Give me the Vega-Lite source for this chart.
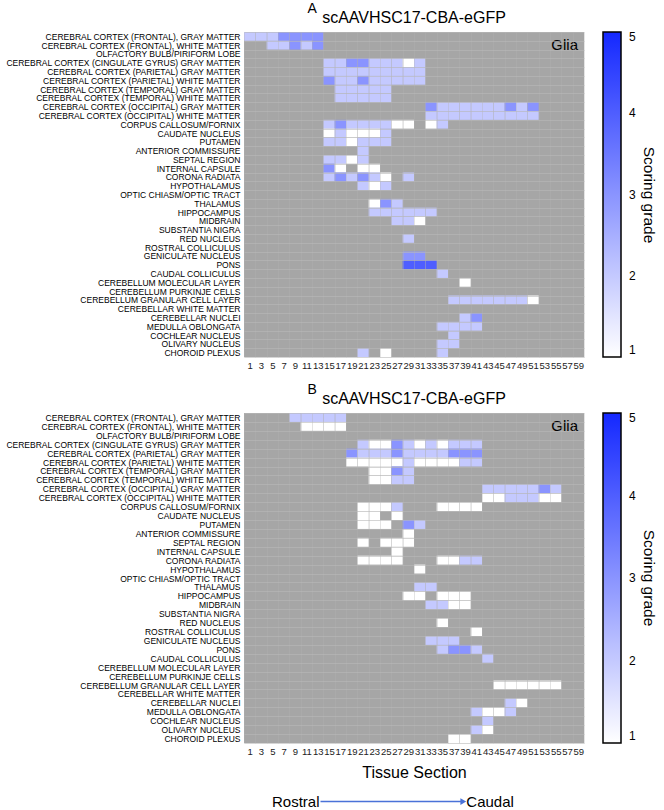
{
  "$schema": "https://vega.github.io/schema/vega-lite/v6.json",
  "background": "white",
  "padding": {"left": 5, "top": 2, "right": 2, "bottom": 1},
  "config": {
    "font": "Liberation Sans",
    "view": {"stroke": null},
    "title": {"fontWeight": "normal", "color": "black", "font": "Liberation Sans"},
    "axis": {"labelFont": "Liberation Sans", "titleFont": "Liberation Sans", "labelColor": "#222222", "titleColor": "black"},
    "legend": {"labelFont": "Liberation Sans", "titleFont": "Liberation Sans"}
  },
  "datasets": {
    "a": [
      {"r": "CEREBRAL CORTEX (FRONTAL), GRAY MATTER", "s": 1, "v": 2},
      {"r": "CEREBRAL CORTEX (FRONTAL), GRAY MATTER", "s": 3, "v": 2},
      {"r": "CEREBRAL CORTEX (FRONTAL), GRAY MATTER", "s": 5, "v": 2},
      {"r": "CEREBRAL CORTEX (FRONTAL), GRAY MATTER", "s": 7, "v": 3},
      {"r": "CEREBRAL CORTEX (FRONTAL), GRAY MATTER", "s": 9, "v": 3},
      {"r": "CEREBRAL CORTEX (FRONTAL), GRAY MATTER", "s": 11, "v": 3},
      {"r": "CEREBRAL CORTEX (FRONTAL), GRAY MATTER", "s": 13, "v": 3},
      {"r": "CEREBRAL CORTEX (FRONTAL), WHITE MATTER", "s": 5, "v": 2},
      {"r": "CEREBRAL CORTEX (FRONTAL), WHITE MATTER", "s": 7, "v": 2},
      {"r": "CEREBRAL CORTEX (FRONTAL), WHITE MATTER", "s": 9, "v": 3},
      {"r": "CEREBRAL CORTEX (FRONTAL), WHITE MATTER", "s": 11, "v": 2},
      {"r": "CEREBRAL CORTEX (FRONTAL), WHITE MATTER", "s": 13, "v": 3},
      {"r": "CEREBRAL CORTEX (CINGULATE GYRUS) GRAY MATTER", "s": 15, "v": 2},
      {"r": "CEREBRAL CORTEX (CINGULATE GYRUS) GRAY MATTER", "s": 17, "v": 2},
      {"r": "CEREBRAL CORTEX (CINGULATE GYRUS) GRAY MATTER", "s": 19, "v": 3},
      {"r": "CEREBRAL CORTEX (CINGULATE GYRUS) GRAY MATTER", "s": 21, "v": 3},
      {"r": "CEREBRAL CORTEX (CINGULATE GYRUS) GRAY MATTER", "s": 23, "v": 2},
      {"r": "CEREBRAL CORTEX (CINGULATE GYRUS) GRAY MATTER", "s": 25, "v": 2},
      {"r": "CEREBRAL CORTEX (CINGULATE GYRUS) GRAY MATTER", "s": 27, "v": 2},
      {"r": "CEREBRAL CORTEX (CINGULATE GYRUS) GRAY MATTER", "s": 29, "v": 1},
      {"r": "CEREBRAL CORTEX (CINGULATE GYRUS) GRAY MATTER", "s": 31, "v": 2},
      {"r": "CEREBRAL CORTEX (PARIETAL) GRAY MATTER", "s": 15, "v": 2},
      {"r": "CEREBRAL CORTEX (PARIETAL) GRAY MATTER", "s": 17, "v": 2},
      {"r": "CEREBRAL CORTEX (PARIETAL) GRAY MATTER", "s": 19, "v": 2},
      {"r": "CEREBRAL CORTEX (PARIETAL) GRAY MATTER", "s": 21, "v": 2},
      {"r": "CEREBRAL CORTEX (PARIETAL) GRAY MATTER", "s": 23, "v": 2},
      {"r": "CEREBRAL CORTEX (PARIETAL) GRAY MATTER", "s": 25, "v": 2},
      {"r": "CEREBRAL CORTEX (PARIETAL) GRAY MATTER", "s": 27, "v": 2},
      {"r": "CEREBRAL CORTEX (PARIETAL) GRAY MATTER", "s": 29, "v": 2},
      {"r": "CEREBRAL CORTEX (PARIETAL) GRAY MATTER", "s": 31, "v": 2},
      {"r": "CEREBRAL CORTEX (PARIETAL) WHITE MATTER", "s": 15, "v": 3},
      {"r": "CEREBRAL CORTEX (PARIETAL) WHITE MATTER", "s": 17, "v": 2},
      {"r": "CEREBRAL CORTEX (PARIETAL) WHITE MATTER", "s": 19, "v": 2},
      {"r": "CEREBRAL CORTEX (PARIETAL) WHITE MATTER", "s": 21, "v": 3},
      {"r": "CEREBRAL CORTEX (PARIETAL) WHITE MATTER", "s": 23, "v": 2},
      {"r": "CEREBRAL CORTEX (PARIETAL) WHITE MATTER", "s": 25, "v": 2},
      {"r": "CEREBRAL CORTEX (PARIETAL) WHITE MATTER", "s": 27, "v": 2},
      {"r": "CEREBRAL CORTEX (PARIETAL) WHITE MATTER", "s": 29, "v": 2},
      {"r": "CEREBRAL CORTEX (PARIETAL) WHITE MATTER", "s": 31, "v": 2},
      {"r": "CEREBRAL CORTEX (TEMPORAL) GRAY MATTER", "s": 17, "v": 2},
      {"r": "CEREBRAL CORTEX (TEMPORAL) GRAY MATTER", "s": 19, "v": 2},
      {"r": "CEREBRAL CORTEX (TEMPORAL) GRAY MATTER", "s": 21, "v": 2},
      {"r": "CEREBRAL CORTEX (TEMPORAL) GRAY MATTER", "s": 23, "v": 2},
      {"r": "CEREBRAL CORTEX (TEMPORAL) GRAY MATTER", "s": 25, "v": 2},
      {"r": "CEREBRAL CORTEX (TEMPORAL) WHITE MATTER", "s": 17, "v": 2},
      {"r": "CEREBRAL CORTEX (TEMPORAL) WHITE MATTER", "s": 19, "v": 2},
      {"r": "CEREBRAL CORTEX (TEMPORAL) WHITE MATTER", "s": 21, "v": 2},
      {"r": "CEREBRAL CORTEX (TEMPORAL) WHITE MATTER", "s": 23, "v": 2},
      {"r": "CEREBRAL CORTEX (TEMPORAL) WHITE MATTER", "s": 25, "v": 2},
      {"r": "CEREBRAL CORTEX (OCCIPITAL) GRAY MATTER", "s": 33, "v": 3},
      {"r": "CEREBRAL CORTEX (OCCIPITAL) GRAY MATTER", "s": 35, "v": 2},
      {"r": "CEREBRAL CORTEX (OCCIPITAL) GRAY MATTER", "s": 37, "v": 2},
      {"r": "CEREBRAL CORTEX (OCCIPITAL) GRAY MATTER", "s": 39, "v": 2},
      {"r": "CEREBRAL CORTEX (OCCIPITAL) GRAY MATTER", "s": 41, "v": 2},
      {"r": "CEREBRAL CORTEX (OCCIPITAL) GRAY MATTER", "s": 43, "v": 2},
      {"r": "CEREBRAL CORTEX (OCCIPITAL) GRAY MATTER", "s": 45, "v": 2},
      {"r": "CEREBRAL CORTEX (OCCIPITAL) GRAY MATTER", "s": 47, "v": 3},
      {"r": "CEREBRAL CORTEX (OCCIPITAL) GRAY MATTER", "s": 49, "v": 2},
      {"r": "CEREBRAL CORTEX (OCCIPITAL) GRAY MATTER", "s": 51, "v": 3},
      {"r": "CEREBRAL CORTEX (OCCIPITAL) WHITE MATTER", "s": 33, "v": 2},
      {"r": "CEREBRAL CORTEX (OCCIPITAL) WHITE MATTER", "s": 35, "v": 2},
      {"r": "CEREBRAL CORTEX (OCCIPITAL) WHITE MATTER", "s": 37, "v": 2},
      {"r": "CEREBRAL CORTEX (OCCIPITAL) WHITE MATTER", "s": 39, "v": 2},
      {"r": "CEREBRAL CORTEX (OCCIPITAL) WHITE MATTER", "s": 41, "v": 2},
      {"r": "CEREBRAL CORTEX (OCCIPITAL) WHITE MATTER", "s": 43, "v": 2},
      {"r": "CEREBRAL CORTEX (OCCIPITAL) WHITE MATTER", "s": 45, "v": 2},
      {"r": "CEREBRAL CORTEX (OCCIPITAL) WHITE MATTER", "s": 47, "v": 2},
      {"r": "CEREBRAL CORTEX (OCCIPITAL) WHITE MATTER", "s": 49, "v": 2},
      {"r": "CEREBRAL CORTEX (OCCIPITAL) WHITE MATTER", "s": 51, "v": 2},
      {"r": "CORPUS CALLOSUM/FORNIX", "s": 15, "v": 2},
      {"r": "CORPUS CALLOSUM/FORNIX", "s": 17, "v": 3},
      {"r": "CORPUS CALLOSUM/FORNIX", "s": 19, "v": 2},
      {"r": "CORPUS CALLOSUM/FORNIX", "s": 21, "v": 2},
      {"r": "CORPUS CALLOSUM/FORNIX", "s": 23, "v": 2},
      {"r": "CORPUS CALLOSUM/FORNIX", "s": 25, "v": 2},
      {"r": "CORPUS CALLOSUM/FORNIX", "s": 27, "v": 1},
      {"r": "CORPUS CALLOSUM/FORNIX", "s": 29, "v": 1},
      {"r": "CORPUS CALLOSUM/FORNIX", "s": 33, "v": 1},
      {"r": "CORPUS CALLOSUM/FORNIX", "s": 35, "v": 2},
      {"r": "CAUDATE NUCLEUS", "s": 15, "v": 1},
      {"r": "CAUDATE NUCLEUS", "s": 17, "v": 2},
      {"r": "CAUDATE NUCLEUS", "s": 19, "v": 1},
      {"r": "CAUDATE NUCLEUS", "s": 21, "v": 1},
      {"r": "CAUDATE NUCLEUS", "s": 23, "v": 1},
      {"r": "CAUDATE NUCLEUS", "s": 25, "v": 2},
      {"r": "PUTAMEN", "s": 15, "v": 2},
      {"r": "PUTAMEN", "s": 17, "v": 2},
      {"r": "PUTAMEN", "s": 19, "v": 1},
      {"r": "PUTAMEN", "s": 21, "v": 2},
      {"r": "PUTAMEN", "s": 23, "v": 2},
      {"r": "PUTAMEN", "s": 25, "v": 2},
      {"r": "ANTERIOR COMMISSURE", "s": 21, "v": 2},
      {"r": "SEPTAL REGION", "s": 15, "v": 2},
      {"r": "SEPTAL REGION", "s": 17, "v": 2},
      {"r": "SEPTAL REGION", "s": 19, "v": 1},
      {"r": "SEPTAL REGION", "s": 21, "v": 2},
      {"r": "INTERNAL CAPSULE", "s": 15, "v": 3},
      {"r": "INTERNAL CAPSULE", "s": 17, "v": 1},
      {"r": "INTERNAL CAPSULE", "s": 21, "v": 1},
      {"r": "INTERNAL CAPSULE", "s": 23, "v": 1},
      {"r": "CORONA RADIATA", "s": 15, "v": 2},
      {"r": "CORONA RADIATA", "s": 17, "v": 3},
      {"r": "CORONA RADIATA", "s": 19, "v": 2},
      {"r": "CORONA RADIATA", "s": 21, "v": 3},
      {"r": "CORONA RADIATA", "s": 23, "v": 2},
      {"r": "CORONA RADIATA", "s": 25, "v": 1},
      {"r": "CORONA RADIATA", "s": 29, "v": 2},
      {"r": "HYPOTHALAMUS", "s": 21, "v": 2},
      {"r": "HYPOTHALAMUS", "s": 23, "v": 1},
      {"r": "HYPOTHALAMUS", "s": 25, "v": 2},
      {"r": "THALAMUS", "s": 23, "v": 1},
      {"r": "THALAMUS", "s": 25, "v": 3},
      {"r": "THALAMUS", "s": 27, "v": 2},
      {"r": "HIPPOCAMPUS", "s": 23, "v": 2},
      {"r": "HIPPOCAMPUS", "s": 25, "v": 2},
      {"r": "HIPPOCAMPUS", "s": 27, "v": 2},
      {"r": "HIPPOCAMPUS", "s": 29, "v": 2},
      {"r": "HIPPOCAMPUS", "s": 31, "v": 2},
      {"r": "HIPPOCAMPUS", "s": 33, "v": 2},
      {"r": "MIDBRAIN", "s": 27, "v": 2},
      {"r": "MIDBRAIN", "s": 29, "v": 2},
      {"r": "MIDBRAIN", "s": 31, "v": 1},
      {"r": "RED NUCLEUS", "s": 29, "v": 2},
      {"r": "GENICULATE NUCLEUS", "s": 29, "v": 3},
      {"r": "GENICULATE NUCLEUS", "s": 31, "v": 3},
      {"r": "PONS", "s": 29, "v": 4},
      {"r": "PONS", "s": 31, "v": 4},
      {"r": "PONS", "s": 33, "v": 4},
      {"r": "CAUDAL COLLICULUS", "s": 35, "v": 2},
      {"r": "CEREBELLUM MOLECULAR LAYER", "s": 39, "v": 1},
      {"r": "CEREBELLUM GRANULAR CELL LAYER", "s": 37, "v": 2},
      {"r": "CEREBELLUM GRANULAR CELL LAYER", "s": 39, "v": 2},
      {"r": "CEREBELLUM GRANULAR CELL LAYER", "s": 41, "v": 2},
      {"r": "CEREBELLUM GRANULAR CELL LAYER", "s": 43, "v": 2},
      {"r": "CEREBELLUM GRANULAR CELL LAYER", "s": 45, "v": 2},
      {"r": "CEREBELLUM GRANULAR CELL LAYER", "s": 47, "v": 2},
      {"r": "CEREBELLUM GRANULAR CELL LAYER", "s": 49, "v": 2},
      {"r": "CEREBELLUM GRANULAR CELL LAYER", "s": 51, "v": 1},
      {"r": "CEREBELLAR NUCLEI", "s": 39, "v": 2},
      {"r": "CEREBELLAR NUCLEI", "s": 41, "v": 3},
      {"r": "MEDULLA OBLONGATA", "s": 35, "v": 2},
      {"r": "MEDULLA OBLONGATA", "s": 37, "v": 2},
      {"r": "MEDULLA OBLONGATA", "s": 39, "v": 2},
      {"r": "MEDULLA OBLONGATA", "s": 41, "v": 2},
      {"r": "COCHLEAR NUCLEUS", "s": 37, "v": 2},
      {"r": "OLIVARY NUCLEUS", "s": 35, "v": 2},
      {"r": "OLIVARY NUCLEUS", "s": 37, "v": 2},
      {"r": "CHOROID PLEXUS", "s": 21, "v": 2},
      {"r": "CHOROID PLEXUS", "s": 25, "v": 1},
      {"r": "CHOROID PLEXUS", "s": 35, "v": 2}
    ],
    "b": [
      {"r": "CEREBRAL CORTEX (FRONTAL), GRAY MATTER", "s": 9, "v": 2},
      {"r": "CEREBRAL CORTEX (FRONTAL), GRAY MATTER", "s": 11, "v": 2},
      {"r": "CEREBRAL CORTEX (FRONTAL), GRAY MATTER", "s": 13, "v": 2},
      {"r": "CEREBRAL CORTEX (FRONTAL), GRAY MATTER", "s": 15, "v": 2},
      {"r": "CEREBRAL CORTEX (FRONTAL), GRAY MATTER", "s": 17, "v": 2},
      {"r": "CEREBRAL CORTEX (FRONTAL), WHITE MATTER", "s": 11, "v": 1},
      {"r": "CEREBRAL CORTEX (FRONTAL), WHITE MATTER", "s": 13, "v": 1},
      {"r": "CEREBRAL CORTEX (FRONTAL), WHITE MATTER", "s": 15, "v": 1},
      {"r": "CEREBRAL CORTEX (FRONTAL), WHITE MATTER", "s": 17, "v": 1},
      {"r": "CEREBRAL CORTEX (CINGULATE GYRUS) GRAY MATTER", "s": 21, "v": 2},
      {"r": "CEREBRAL CORTEX (CINGULATE GYRUS) GRAY MATTER", "s": 23, "v": 1},
      {"r": "CEREBRAL CORTEX (CINGULATE GYRUS) GRAY MATTER", "s": 25, "v": 1},
      {"r": "CEREBRAL CORTEX (CINGULATE GYRUS) GRAY MATTER", "s": 27, "v": 3},
      {"r": "CEREBRAL CORTEX (CINGULATE GYRUS) GRAY MATTER", "s": 29, "v": 2},
      {"r": "CEREBRAL CORTEX (CINGULATE GYRUS) GRAY MATTER", "s": 31, "v": 1},
      {"r": "CEREBRAL CORTEX (CINGULATE GYRUS) GRAY MATTER", "s": 33, "v": 2},
      {"r": "CEREBRAL CORTEX (CINGULATE GYRUS) GRAY MATTER", "s": 35, "v": 1},
      {"r": "CEREBRAL CORTEX (CINGULATE GYRUS) GRAY MATTER", "s": 37, "v": 2},
      {"r": "CEREBRAL CORTEX (CINGULATE GYRUS) GRAY MATTER", "s": 39, "v": 2},
      {"r": "CEREBRAL CORTEX (CINGULATE GYRUS) GRAY MATTER", "s": 41, "v": 2},
      {"r": "CEREBRAL CORTEX (PARIETAL) GRAY MATTER", "s": 19, "v": 3},
      {"r": "CEREBRAL CORTEX (PARIETAL) GRAY MATTER", "s": 21, "v": 2},
      {"r": "CEREBRAL CORTEX (PARIETAL) GRAY MATTER", "s": 23, "v": 2},
      {"r": "CEREBRAL CORTEX (PARIETAL) GRAY MATTER", "s": 25, "v": 2},
      {"r": "CEREBRAL CORTEX (PARIETAL) GRAY MATTER", "s": 27, "v": 3},
      {"r": "CEREBRAL CORTEX (PARIETAL) GRAY MATTER", "s": 29, "v": 2},
      {"r": "CEREBRAL CORTEX (PARIETAL) GRAY MATTER", "s": 31, "v": 2},
      {"r": "CEREBRAL CORTEX (PARIETAL) GRAY MATTER", "s": 33, "v": 2},
      {"r": "CEREBRAL CORTEX (PARIETAL) GRAY MATTER", "s": 35, "v": 2},
      {"r": "CEREBRAL CORTEX (PARIETAL) GRAY MATTER", "s": 37, "v": 3},
      {"r": "CEREBRAL CORTEX (PARIETAL) GRAY MATTER", "s": 39, "v": 3},
      {"r": "CEREBRAL CORTEX (PARIETAL) GRAY MATTER", "s": 41, "v": 3},
      {"r": "CEREBRAL CORTEX (PARIETAL) WHITE MATTER", "s": 19, "v": 1},
      {"r": "CEREBRAL CORTEX (PARIETAL) WHITE MATTER", "s": 21, "v": 1},
      {"r": "CEREBRAL CORTEX (PARIETAL) WHITE MATTER", "s": 23, "v": 1},
      {"r": "CEREBRAL CORTEX (PARIETAL) WHITE MATTER", "s": 25, "v": 1},
      {"r": "CEREBRAL CORTEX (PARIETAL) WHITE MATTER", "s": 27, "v": 1},
      {"r": "CEREBRAL CORTEX (PARIETAL) WHITE MATTER", "s": 29, "v": 2},
      {"r": "CEREBRAL CORTEX (PARIETAL) WHITE MATTER", "s": 31, "v": 1},
      {"r": "CEREBRAL CORTEX (PARIETAL) WHITE MATTER", "s": 33, "v": 1},
      {"r": "CEREBRAL CORTEX (PARIETAL) WHITE MATTER", "s": 35, "v": 1},
      {"r": "CEREBRAL CORTEX (PARIETAL) WHITE MATTER", "s": 37, "v": 1},
      {"r": "CEREBRAL CORTEX (PARIETAL) WHITE MATTER", "s": 39, "v": 2},
      {"r": "CEREBRAL CORTEX (PARIETAL) WHITE MATTER", "s": 41, "v": 2},
      {"r": "CEREBRAL CORTEX (TEMPORAL) GRAY MATTER", "s": 23, "v": 1},
      {"r": "CEREBRAL CORTEX (TEMPORAL) GRAY MATTER", "s": 25, "v": 1},
      {"r": "CEREBRAL CORTEX (TEMPORAL) GRAY MATTER", "s": 27, "v": 3},
      {"r": "CEREBRAL CORTEX (TEMPORAL) GRAY MATTER", "s": 29, "v": 2},
      {"r": "CEREBRAL CORTEX (TEMPORAL) WHITE MATTER", "s": 23, "v": 1},
      {"r": "CEREBRAL CORTEX (TEMPORAL) WHITE MATTER", "s": 25, "v": 1},
      {"r": "CEREBRAL CORTEX (TEMPORAL) WHITE MATTER", "s": 27, "v": 2},
      {"r": "CEREBRAL CORTEX (TEMPORAL) WHITE MATTER", "s": 29, "v": 2},
      {"r": "CEREBRAL CORTEX (OCCIPITAL) GRAY MATTER", "s": 43, "v": 2},
      {"r": "CEREBRAL CORTEX (OCCIPITAL) GRAY MATTER", "s": 45, "v": 2},
      {"r": "CEREBRAL CORTEX (OCCIPITAL) GRAY MATTER", "s": 47, "v": 2},
      {"r": "CEREBRAL CORTEX (OCCIPITAL) GRAY MATTER", "s": 49, "v": 2},
      {"r": "CEREBRAL CORTEX (OCCIPITAL) GRAY MATTER", "s": 51, "v": 2},
      {"r": "CEREBRAL CORTEX (OCCIPITAL) GRAY MATTER", "s": 53, "v": 3},
      {"r": "CEREBRAL CORTEX (OCCIPITAL) GRAY MATTER", "s": 55, "v": 2},
      {"r": "CEREBRAL CORTEX (OCCIPITAL) WHITE MATTER", "s": 43, "v": 1},
      {"r": "CEREBRAL CORTEX (OCCIPITAL) WHITE MATTER", "s": 45, "v": 1},
      {"r": "CEREBRAL CORTEX (OCCIPITAL) WHITE MATTER", "s": 47, "v": 2},
      {"r": "CEREBRAL CORTEX (OCCIPITAL) WHITE MATTER", "s": 49, "v": 2},
      {"r": "CEREBRAL CORTEX (OCCIPITAL) WHITE MATTER", "s": 51, "v": 2},
      {"r": "CEREBRAL CORTEX (OCCIPITAL) WHITE MATTER", "s": 53, "v": 1},
      {"r": "CEREBRAL CORTEX (OCCIPITAL) WHITE MATTER", "s": 55, "v": 1},
      {"r": "CORPUS CALLOSUM/FORNIX", "s": 21, "v": 1},
      {"r": "CORPUS CALLOSUM/FORNIX", "s": 23, "v": 1},
      {"r": "CORPUS CALLOSUM/FORNIX", "s": 25, "v": 1},
      {"r": "CORPUS CALLOSUM/FORNIX", "s": 27, "v": 2},
      {"r": "CORPUS CALLOSUM/FORNIX", "s": 35, "v": 1},
      {"r": "CORPUS CALLOSUM/FORNIX", "s": 37, "v": 1},
      {"r": "CORPUS CALLOSUM/FORNIX", "s": 39, "v": 1},
      {"r": "CORPUS CALLOSUM/FORNIX", "s": 41, "v": 1},
      {"r": "CAUDATE NUCLEUS", "s": 21, "v": 1},
      {"r": "CAUDATE NUCLEUS", "s": 23, "v": 1},
      {"r": "CAUDATE NUCLEUS", "s": 27, "v": 1},
      {"r": "PUTAMEN", "s": 21, "v": 1},
      {"r": "PUTAMEN", "s": 23, "v": 1},
      {"r": "PUTAMEN", "s": 25, "v": 1},
      {"r": "PUTAMEN", "s": 29, "v": 3},
      {"r": "PUTAMEN", "s": 31, "v": 2},
      {"r": "ANTERIOR COMMISSURE", "s": 29, "v": 1},
      {"r": "SEPTAL REGION", "s": 21, "v": 1},
      {"r": "SEPTAL REGION", "s": 25, "v": 1},
      {"r": "SEPTAL REGION", "s": 27, "v": 1},
      {"r": "SEPTAL REGION", "s": 29, "v": 1},
      {"r": "INTERNAL CAPSULE", "s": 27, "v": 1},
      {"r": "CORONA RADIATA", "s": 21, "v": 1},
      {"r": "CORONA RADIATA", "s": 23, "v": 1},
      {"r": "CORONA RADIATA", "s": 25, "v": 1},
      {"r": "CORONA RADIATA", "s": 27, "v": 1},
      {"r": "CORONA RADIATA", "s": 35, "v": 1},
      {"r": "CORONA RADIATA", "s": 37, "v": 1},
      {"r": "CORONA RADIATA", "s": 39, "v": 2},
      {"r": "CORONA RADIATA", "s": 41, "v": 2},
      {"r": "HYPOTHALAMUS", "s": 31, "v": 1},
      {"r": "THALAMUS", "s": 31, "v": 2},
      {"r": "THALAMUS", "s": 33, "v": 2},
      {"r": "HIPPOCAMPUS", "s": 29, "v": 1},
      {"r": "HIPPOCAMPUS", "s": 31, "v": 1},
      {"r": "HIPPOCAMPUS", "s": 35, "v": 1},
      {"r": "HIPPOCAMPUS", "s": 37, "v": 1},
      {"r": "HIPPOCAMPUS", "s": 39, "v": 1},
      {"r": "MIDBRAIN", "s": 33, "v": 2},
      {"r": "MIDBRAIN", "s": 35, "v": 2},
      {"r": "MIDBRAIN", "s": 37, "v": 1},
      {"r": "MIDBRAIN", "s": 39, "v": 1},
      {"r": "RED NUCLEUS", "s": 35, "v": 1},
      {"r": "ROSTRAL COLLICULUS", "s": 41, "v": 1},
      {"r": "GENICULATE NUCLEUS", "s": 33, "v": 2},
      {"r": "GENICULATE NUCLEUS", "s": 35, "v": 2},
      {"r": "GENICULATE NUCLEUS", "s": 37, "v": 2},
      {"r": "PONS", "s": 35, "v": 2},
      {"r": "PONS", "s": 37, "v": 3},
      {"r": "PONS", "s": 39, "v": 3},
      {"r": "PONS", "s": 41, "v": 2},
      {"r": "CAUDAL COLLICULUS", "s": 43, "v": 2},
      {"r": "CEREBELLUM GRANULAR CELL LAYER", "s": 45, "v": 1},
      {"r": "CEREBELLUM GRANULAR CELL LAYER", "s": 47, "v": 1},
      {"r": "CEREBELLUM GRANULAR CELL LAYER", "s": 49, "v": 1},
      {"r": "CEREBELLUM GRANULAR CELL LAYER", "s": 51, "v": 1},
      {"r": "CEREBELLUM GRANULAR CELL LAYER", "s": 53, "v": 1},
      {"r": "CEREBELLUM GRANULAR CELL LAYER", "s": 55, "v": 1},
      {"r": "CEREBELLAR NUCLEI", "s": 47, "v": 2},
      {"r": "CEREBELLAR NUCLEI", "s": 49, "v": 1},
      {"r": "MEDULLA OBLONGATA", "s": 41, "v": 2},
      {"r": "MEDULLA OBLONGATA", "s": 43, "v": 1},
      {"r": "MEDULLA OBLONGATA", "s": 45, "v": 1},
      {"r": "MEDULLA OBLONGATA", "s": 47, "v": 2},
      {"r": "COCHLEAR NUCLEUS", "s": 43, "v": 2},
      {"r": "OLIVARY NUCLEUS", "s": 41, "v": 2},
      {"r": "OLIVARY NUCLEUS", "s": 43, "v": 1},
      {"r": "CHOROID PLEXUS", "s": 37, "v": 1},
      {"r": "CHOROID PLEXUS", "s": 39, "v": 1}
    ]
  },
  "spacing": 13,
  "resolve": {"scale": {"color": "independent"}, "legend": {"color": "independent"}},
  "vconcat": [
    {
      "title": {"text": "A", "anchor": "start", "dx": 302, "dy": 0, "fontSize": 14, "offset": -6},
      "vconcat": [
        {
          "title": {"text": "scAAVHSC17-CBA-eGFP", "fontSize": 16, "offset": 2, "anchor": "middle"},
          "width": 340,
          "height": 325,
          "view": {"fill": "#a6a6a6", "stroke": null},
          "layer": [
            {
              "data": {"name": "a"},
              "mark": {"type": "rect"},
              "encoding": {
                "x": {"field": "s", "type": "ordinal",
                  "scale": {"domain": [1,3,5,7,9,11,13,15,17,19,21,23,25,27,29,31,33,35,37,39,41,43,45,47,49,51,53,55,57,59], "paddingInner": 0, "paddingOuter": 0},
                  "axis": {"title": null, "labelAngle": 0, "labelFontSize": 9.5, "labelPadding": 3, "ticks": false, "domain": false, "labelOverlap": false, "grid": true, "tickBand": "extent", "gridColor": "#b4b4b4", "gridWidth": 0.6, "gridOpacity": 0.6}},
                "y": {"field": "r", "type": "nominal",
                  "scale": {"domain": ["CEREBRAL CORTEX (FRONTAL), GRAY MATTER","CEREBRAL CORTEX (FRONTAL), WHITE MATTER","OLFACTORY BULB/PIRIFORM LOBE","CEREBRAL CORTEX (CINGULATE GYRUS) GRAY MATTER","CEREBRAL CORTEX (PARIETAL) GRAY MATTER","CEREBRAL CORTEX (PARIETAL) WHITE MATTER","CEREBRAL CORTEX (TEMPORAL) GRAY MATTER","CEREBRAL CORTEX (TEMPORAL) WHITE MATTER","CEREBRAL CORTEX (OCCIPITAL) GRAY MATTER","CEREBRAL CORTEX (OCCIPITAL) WHITE MATTER","CORPUS CALLOSUM/FORNIX","CAUDATE NUCLEUS","PUTAMEN","ANTERIOR COMMISSURE","SEPTAL REGION","INTERNAL CAPSULE","CORONA RADIATA","HYPOTHALAMUS","OPTIC CHIASM/OPTIC TRACT","THALAMUS","HIPPOCAMPUS","MIDBRAIN","SUBSTANTIA NIGRA","RED NUCLEUS","ROSTRAL COLLICULUS","GENICULATE NUCLEUS","PONS","CAUDAL COLLICULUS","CEREBELLUM MOLECULAR LAYER","CEREBELLUM PURKINJE CELLS","CEREBELLUM GRANULAR CELL LAYER","CEREBELLAR WHITE MATTER","CEREBELLAR NUCLEI","MEDULLA OBLONGATA","COCHLEAR NUCLEUS","OLIVARY NUCLEUS","CHOROID PLEXUS"], "paddingInner": 0, "paddingOuter": 0},
                  "axis": {"title": null, "labelFontSize": 8.5, "labelPadding": 4, "labelColor": "black", "ticks": false, "domain": false, "labelOverlap": false, "labelLimit": 400, "grid": true, "tickBand": "extent", "gridColor": "#b8b8b8", "gridWidth": 0.6}},
                "color": {"field": "v", "type": "quantitative",
                  "scale": {"domain": [1, 5], "range": ["#ffffff", "#1428ff"], "interpolate": "rgb"},
                  "legend": {"title": "Scoring  grade", "format": "d", "orient": "right", "direction": "vertical", "gradientLength": 325, "gradientThickness": 18, "gradientStrokeColor": "black", "gradientStrokeWidth": 1.5, "values": [1, 2, 3, 4, 5], "labelFontSize": 12, "labelOffset": 8, "titleFontSize": 15.5, "titleFontWeight": "normal", "titleOrient": "right", "offset": 19, "padding": 0,
                    "encode": {"title": {"angle": {"value": -90}}}}}
              }
            },
            {
              "data": {"values": [{}]},
              "mark": {"type": "text", "text": "Glia", "fontSize": 15, "align": "right", "baseline": "middle", "dx": -6, "color": "black"},
              "encoding": {
                "x": {"datum": 59, "type": "ordinal", "bandPosition": 1},
                "y": {"datum": "CEREBRAL CORTEX (FRONTAL), WHITE MATTER", "type": "nominal"}
              }
            }
          ]
        }
      ]
    },
    {
      "title": {"text": "B", "anchor": "start", "dx": 302, "dy": 0, "fontSize": 14, "offset": -6},
      "vconcat": [
        {
          "title": {"text": "scAAVHSC17-CBA-eGFP", "fontSize": 16, "offset": 2, "anchor": "middle"},
          "width": 340,
          "height": 330,
          "view": {"fill": "#a6a6a6", "stroke": null},
          "layer": [
            {
              "data": {"name": "b"},
              "mark": {"type": "rect"},
              "encoding": {
                "x": {"field": "s", "type": "ordinal",
                  "scale": {"domain": [1,3,5,7,9,11,13,15,17,19,21,23,25,27,29,31,33,35,37,39,41,43,45,47,49,51,53,55,57,59], "paddingInner": 0, "paddingOuter": 0},
                  "axis": {"title": "Tissue Section", "titleFontSize": 16, "titleFontWeight": "normal", "titlePadding": 9, "labelAngle": 0, "labelFontSize": 9.5, "labelPadding": 3, "ticks": false, "domain": false, "labelOverlap": false, "grid": true, "tickBand": "extent", "gridColor": "#b4b4b4", "gridWidth": 0.6, "gridOpacity": 0.6}},
                "y": {"field": "r", "type": "nominal",
                  "scale": {"domain": ["CEREBRAL CORTEX (FRONTAL), GRAY MATTER","CEREBRAL CORTEX (FRONTAL), WHITE MATTER","OLFACTORY BULB/PIRIFORM LOBE","CEREBRAL CORTEX (CINGULATE GYRUS) GRAY MATTER","CEREBRAL CORTEX (PARIETAL) GRAY MATTER","CEREBRAL CORTEX (PARIETAL) WHITE MATTER","CEREBRAL CORTEX (TEMPORAL) GRAY MATTER","CEREBRAL CORTEX (TEMPORAL) WHITE MATTER","CEREBRAL CORTEX (OCCIPITAL) GRAY MATTER","CEREBRAL CORTEX (OCCIPITAL) WHITE MATTER","CORPUS CALLOSUM/FORNIX","CAUDATE NUCLEUS","PUTAMEN","ANTERIOR COMMISSURE","SEPTAL REGION","INTERNAL CAPSULE","CORONA RADIATA","HYPOTHALAMUS","OPTIC CHIASM/OPTIC TRACT","THALAMUS","HIPPOCAMPUS","MIDBRAIN","SUBSTANTIA NIGRA","RED NUCLEUS","ROSTRAL COLLICULUS","GENICULATE NUCLEUS","PONS","CAUDAL COLLICULUS","CEREBELLUM MOLECULAR LAYER","CEREBELLUM PURKINJE CELLS","CEREBELLUM GRANULAR CELL LAYER","CEREBELLAR WHITE MATTER","CEREBELLAR NUCLEI","MEDULLA OBLONGATA","COCHLEAR NUCLEUS","OLIVARY NUCLEUS","CHOROID PLEXUS"], "paddingInner": 0, "paddingOuter": 0},
                  "axis": {"title": null, "labelFontSize": 8.5, "labelPadding": 4, "labelColor": "black", "ticks": false, "domain": false, "labelOverlap": false, "labelLimit": 400, "grid": true, "tickBand": "extent", "gridColor": "#b8b8b8", "gridWidth": 0.6}},
                "color": {"field": "v", "type": "quantitative",
                  "scale": {"domain": [1, 5], "range": ["#ffffff", "#1428ff"], "interpolate": "rgb"},
                  "legend": {"title": "Scoring  grade", "format": "d", "orient": "right", "direction": "vertical", "gradientLength": 330, "gradientThickness": 18, "gradientStrokeColor": "black", "gradientStrokeWidth": 1.5, "values": [1, 2, 3, 4, 5], "labelFontSize": 12, "labelOffset": 8, "titleFontSize": 15.5, "titleFontWeight": "normal", "titleOrient": "right", "offset": 19, "padding": 0,
                    "encode": {"title": {"angle": {"value": -90}}}}}
              }
            },
            {
              "data": {"values": [{}]},
              "mark": {"type": "text", "text": "Glia", "fontSize": 15, "align": "right", "baseline": "middle", "dx": -6, "color": "black"},
              "encoding": {
                "x": {"datum": 59, "type": "ordinal", "bandPosition": 1},
                "y": {"datum": "CEREBRAL CORTEX (FRONTAL), WHITE MATTER", "type": "nominal"}
              }
            }
          ]
        }
      ]
    },
    {
      "width": 340,
      "height": 14,
      "view": {"stroke": null, "fill": null},
      "data": {"values": [{}]},
      "layer": [
        {
          "mark": {"type": "rule", "color": "#4a72d8", "strokeWidth": 1.5},
          "encoding": {
            "x": {"datum": 0.225, "type": "quantitative", "scale": {"domain": [0, 1]}, "axis": null},
            "x2": {"datum": 0.645},
            "y": {"datum": 0.6, "type": "quantitative", "scale": {"domain": [0, 1]}, "axis": null}
          }
        },
        {
          "mark": {"type": "point", "shape": "triangle-right", "filled": true, "size": 45, "color": "#4a72d8", "opacity": 1},
          "encoding": {
            "x": {"datum": 0.645, "type": "quantitative"},
            "y": {"datum": 0.6, "type": "quantitative"}
          }
        },
        {
          "mark": {"type": "text", "text": "Rostral", "fontSize": 15, "align": "right", "baseline": "middle", "dx": -1, "color": "black"},
          "encoding": {
            "x": {"datum": 0.225, "type": "quantitative"},
            "y": {"datum": 0.6, "type": "quantitative"}
          }
        },
        {
          "mark": {"type": "text", "text": "Caudal", "fontSize": 15, "align": "left", "baseline": "middle", "dx": 3, "color": "black"},
          "encoding": {
            "x": {"datum": 0.645, "type": "quantitative"},
            "y": {"datum": 0.6, "type": "quantitative"}
          }
        }
      ]
    }
  ]
}
